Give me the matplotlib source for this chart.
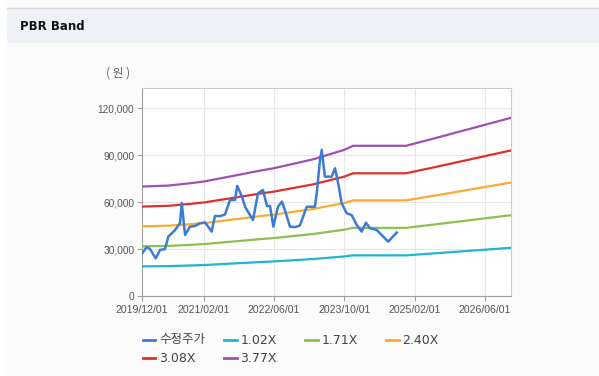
import numpy as np
import pandas as pd
import matplotlib
matplotlib.use("Agg")
import matplotlib.pyplot as plt
from matplotlib.lines import Line2D
from matplotlib.patches import Rectangle
from matplotlib.ticker import FuncFormatter

# 수정주가 (adjusted price)
price_dates = ["2019-12-06", "2020-01-03", "2020-01-25", "2020-03-05", "2020-04-04",
               "2020-05-08", "2020-05-31", "2020-07-16", "2020-08-20", "2020-09-01",
               "2020-09-24", "2020-10-28", "2020-12-02", "2021-01-05", "2021-02-09",
               "2021-03-27", "2021-04-19", "2021-05-24", "2021-06-27", "2021-08-01",
               "2021-09-05", "2021-09-20", "2021-10-23", "2021-11-13", "2021-12-17",
               "2022-01-07", "2022-02-11", "2022-03-17", "2022-04-14", "2022-05-05",
               "2022-05-28", "2022-06-29", "2022-07-27", "2022-08-23", "2022-09-20",
               "2022-10-25", "2022-11-28", "2023-01-14", "2023-03-12", "2023-03-26",
               "2023-04-16", "2023-04-28", "2023-05-20", "2023-07-06", "2023-07-29",
               "2023-08-20", "2023-09-13", "2023-10-18", "2023-11-21", "2023-12-26",
               "2024-01-29", "2024-02-28", "2024-03-27", "2024-05-12", "2024-07-31",
               "2024-09-28"]
price = [27700, 31300, 30000, 24000, 29400,
         30000, 37900, 42000, 46600, 59400,
         39000, 44300, 44700, 46400, 47000,
         41100, 51100, 51000, 52000, 61300,
         61300, 70300, 63500, 57000, 51800,
         48600, 65600, 67700, 57500, 57500,
         44300, 57000, 60300, 52800, 44300,
         44000, 45000, 57000, 57000, 67000,
         86900, 93300, 76200, 76200, 81600,
         72000, 59200, 52800, 51700, 45400,
         41100, 46800, 43300, 42200, 34700,
         40500]

# BPS used for the PBR bands
bps_dates = ["2019-12-01", "2020-06-01", "2020-11-01", "2021-02-01", "2021-08-01",
             "2022-03-01", "2022-06-01", "2022-11-01", "2023-03-01", "2023-10-01",
             "2023-12-01", "2024-12-01", "2025-06-01", "2025-12-01", "2026-06-01",
             "2026-12-01"]
bps = [18540, 18700, 19100, 19390, 20240,
       21250, 21640, 22490, 23160, 24750,
       25440, 25440, 26600, 27800, 29000,
       30200]

multiples = [1.02, 1.71, 2.40, 3.08, 3.77]
band_labels = ["1.02X", "1.71X", "2.40X", "3.08X", "3.77X"]
band_colors = ["#1db7cf", "#8cc152", "#fbaa34", "#e1302b", "#a050b0"]
price_color = "#3a7bd5"

x_ticks = ["2019/12/01", "2021/02/01", "2022/06/01", "2023/10/01", "2025/02/01", "2026/06/01"]
y_ticks = [0, 30000, 60000, 90000, 120000]

pd_dates = pd.to_datetime(price_dates)
bd = pd.to_datetime(bps_dates)
bps_arr = np.array(bps, dtype=float)

fig = plt.figure(figsize=(5.99, 3.76), dpi=100, facecolor="#fbfbfb")

# header banner
fig.patches.append(Rectangle((0, 0), 7 / 599, 1, transform=fig.transFigure,
                             facecolor="white", edgecolor="none", zorder=0))
fig.patches.append(Rectangle((7 / 599, 1 - 43 / 376), 1, 35 / 376, transform=fig.transFigure,
                             facecolor="#eef2f7", edgecolor="none", zorder=0))
fig.lines.append(Line2D([7 / 599, 1], [1 - 7.5 / 376, 1 - 7.5 / 376], transform=fig.transFigure,
                        color="#d6d6d6", lw=1))
fig.text(20 / 599, 1 - 26 / 376, "PBR Band", fontsize=8.5, fontweight="bold",
         va="center", ha="left", color="#111111")

ax = fig.add_axes([142 / 599, 1 - 296 / 376, 369 / 599, 208.3 / 376])
ax.set_facecolor("white")

for m, lab, c in zip(multiples, band_labels, band_colors):
    ax.plot(bd, bps_arr * m, color=c, lw=1.6, label=lab, zorder=3)
ax.plot(pd_dates, price, color=price_color, lw=1.8, label="수정주가", zorder=4)

ax.set_xlim(pd.Timestamp("2019-12-01"), pd.Timestamp("2026-11-28"))
ax.set_ylim(0, 133000)
ax.set_xticks(pd.to_datetime(x_ticks))
ax.set_xticklabels(x_ticks)
ax.set_yticks(y_ticks)
ax.yaxis.set_major_formatter(FuncFormatter(lambda v, p: f"{int(v):,}"))

ax.grid(True, color="#e6e6e6", lw=0.8)
ax.set_axisbelow(True)
for s in ["left", "bottom"]:
    ax.spines[s].set_color("#a0a0a0")
for s in ["top", "right"]:
    ax.spines[s].set_color("#cccccc")
ax.tick_params(axis="both", length=3.6, width=0.8, color="#a0a0a0", labelcolor="#555555")
ax.tick_params(axis="y", labelsize=7.3, pad=2)
ax.tick_params(axis="x", labelsize=7.6, pad=3)
for t in ax.get_xticklabels() + ax.get_yticklabels():
    t.set_family("Liberation Sans")

fig.text(118 / 599, 1 - 73 / 376, "( 원 )", fontsize=8.5, color="#666666",
         ha="center", va="center", family=["Noto Sans CJK KR", "DejaVu Sans"])

# legend drawn by hand: two rows
leg_items = [("수정주가", price_color)] + list(zip(band_labels, band_colors))
col_x = [142.7, 224, 305, 386]
row_y = [340, 358]
for i, (lab, c) in enumerate(leg_items):
    r, k = divmod(i, 4)
    x0 = col_x[k]
    y0 = 1 - row_y[r] / 376
    fig.lines.append(Line2D([x0 / 599, (x0 + 12.5) / 599], [y0, y0], transform=fig.transFigure,
                            color=c, lw=2))
    fig.text((x0 + 16.5) / 599, y0, lab, fontsize=9, color="#444444", va="center", ha="left",
             family=["DejaVu Sans", "Noto Sans CJK KR"])

fig.savefig("out.png", dpi=100, facecolor=fig.get_facecolor())
